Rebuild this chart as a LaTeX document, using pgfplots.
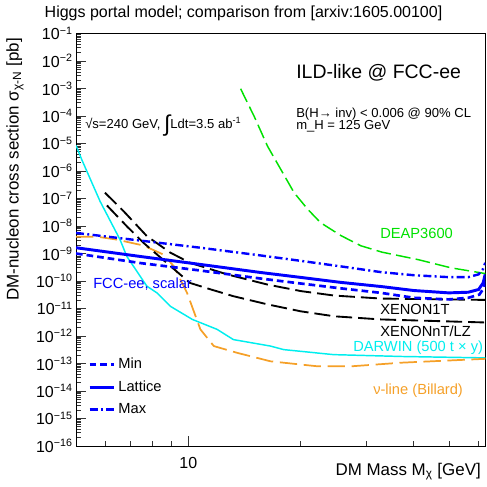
\documentclass[border=0pt]{standalone}
\usepackage{fontspec}
\setmainfont{Liberation Sans}
\usepackage{pgfplots}
\pgfplotsset{compat=1.18}
\definecolor{rootgreen}{RGB}{0,225,0}
\definecolor{rootorange}{RGB}{245,160,40}
\definecolor{rootcyan}{RGB}{0,238,238}
\newcommand{\e}[1]{10\textsuperscript{−#1}}
% image px -> picture coordinates (axis box south west at origin)
\newcommand{\px}[2]{({(#1-76)*0.75pt},{(446-#2)*0.75pt})}

\begin{document}
\begin{tikzpicture}
\begin{axis}[
  scale only axis, width=307.1pt, height=309.4pt,
  xmode=log, ymode=log,
  xmin=5, xmax=62.5, ymin=1e-16, ymax=1e-1,
  xtick={10}, xticklabels={10},
  minor xtick={6,7,8,9,20,30,40,50,60},
  ytick={1e-16,1e-15,1e-14,1e-13,1e-12,1e-11,1e-10,1e-9,1e-8,1e-7,1e-6,1e-5,1e-4,1e-3,1e-2,1e-1},
  yticklabels={\e{16},\e{15},\e{14},\e{13},\e{12},\e{11},\e{10},\e{9},\e{8},\e{7},\e{6},\e{5},\e{4},\e{3},\e{2},\e{1}},
  minor ytick={
   2e-16,3e-16,4e-16,5e-16,6e-16,7e-16,8e-16,9e-16,
   2e-15,3e-15,4e-15,5e-15,6e-15,7e-15,8e-15,9e-15,
   2e-14,3e-14,4e-14,5e-14,6e-14,7e-14,8e-14,9e-14,
   2e-13,3e-13,4e-13,5e-13,6e-13,7e-13,8e-13,9e-13,
   2e-12,3e-12,4e-12,5e-12,6e-12,7e-12,8e-12,9e-12,
   2e-11,3e-11,4e-11,5e-11,6e-11,7e-11,8e-11,9e-11,
   2e-10,3e-10,4e-10,5e-10,6e-10,7e-10,8e-10,9e-10,
   2e-9,3e-9,4e-9,5e-9,6e-9,7e-9,8e-9,9e-9,
   2e-8,3e-8,4e-8,5e-8,6e-8,7e-8,8e-8,9e-8,
   2e-7,3e-7,4e-7,5e-7,6e-7,7e-7,8e-7,9e-7,
   2e-6,3e-6,4e-6,5e-6,6e-6,7e-6,8e-6,9e-6,
   2e-5,3e-5,4e-5,5e-5,6e-5,7e-5,8e-5,9e-5,
   2e-4,3e-4,4e-4,5e-4,6e-4,7e-4,8e-4,9e-4,
   2e-3,3e-3,4e-3,5e-3,6e-3,7e-3,8e-3,9e-3,
   2e-2,3e-2,4e-2,5e-2,6e-2,7e-2,8e-2,9e-2},
  xtick pos=bottom, ytick pos=left, tick align=inside,
  major tick length=7.5pt, minor tick length=4pt,
  tick style={black!80, line width=0.6pt},
  axis line style={line width=0.6pt},
  ticklabel style={font=\fontsize{12}{14}\selectfont},
  xticklabel style={yshift=-5pt},
  yticklabel style={xshift=1pt},
  xlabel={DM Mass M\textsubscript{χ} [GeV]},
  ylabel={DM-nucleon cross section σ\textsubscript{χ-N} [pb]},
  label style={font=\fontsize{12.7}{14}\selectfont},
  xlabel style={at={(axis description cs:1,-0.062)}, anchor=east},
  ylabel style={at={(axis description cs:-0.149,1)}, anchor=east},
  legend style={at={(axis description cs:0.029,0.220)}, anchor=north west,
    draw=none, fill=none, font=\fontsize{11}{13}\selectfont, row sep=3.5pt,
    inner sep=0pt, cells={anchor=west}},
  legend image code/.code={\draw[#1] (0pt,0pt) -- (18.5pt,0pt);},
]
% DARWIN
\addplot[rootcyan, line width=1.1pt, forget plot] coordinates {
 (5.0,8.5e-6) (5.18,2.6e-6) (5.80,7.9e-8) (6.56,3.2e-9) (6.84,7.9e-10)
 (7.74,6.5e-11) (8.24,3.7e-11) (8.95,1.2e-11) (10.25,4.0e-12) (11.94,1.74e-12)
 (13.2,7.4e-13) (16.6,4.3e-13) (18.0,3.2e-13) (24.5,2.1e-13) (37.2,1.8e-13) (62.5,1.6e-13)};
% neutrino line (Billard)
\addplot[rootorange, line width=1.3pt, dash pattern=on 13pt off 5pt, forget plot] coordinates {
 (5.0,4.1e-9) (5.68,4.1e-9) (6.43,3.2e-9) (7.58,1.95e-9) (8.58,9.1e-10) (9.13,3.5e-10)
 (9.92,3.7e-11) (10.77,1.74e-12) (11.7,4.3e-13) (13.5,2.45e-13) (16.6,1.2e-13)
 (22.2,7.9e-14) (27.3,7.9e-14) (37.2,1.07e-13) (62.5,1.48e-13)};
% DEAP3600
\addplot[rootgreen, line width=1.1pt, dash pattern=on 11pt off 4pt, forget plot] coordinates {
 (13.8,9.8e-4) (15.0,9.8e-5) (16.3,7.9e-6) (17.7,1.12e-6) (19.2,1.62e-7) (20.9,4.0e-8)
 (22.6,1.32e-8) (25.6,4.5e-9) (29.0,1.9e-9) (33.0,1.12e-9) (41.2,6.0e-10)
 (50.6,3.0e-10) (62.5,1.86e-10)};
% XENON1T
\addplot[black, line width=1.4pt, dash pattern=on 12pt off 4.5pt, forget plot] coordinates {
 (5.98,1.62e-7) (6.70,3.5e-8) (7.74,4.3e-9) (8.95,1.07e-9) (10.1,4.6e-10) (12.7,1.74e-10)
 (16.3,7.4e-11) (20.0,4.3e-11) (24.6,2.95e-11) (32.8,2.3e-11) (62.5,2.05e-11)};
% XENONnT/LZ
\addplot[black, line width=1.4pt, dash pattern=on 12pt off 4.5pt, forget plot] coordinates {
 (6.05,5.6e-8) (6.84,9.8e-9) (7.58,2.45e-9) (8.95,3.5e-10) (10.1,8.5e-11) (11.5,4.9e-11)
 (13.2,2.8e-11) (16.3,1.41e-11) (20.0,7.9e-12) (24.6,5.2e-12) (32.8,4.0e-12) (62.5,3.1e-12)};
% FCC-ee scalar: Min, Lattice, Max
\addplot[blue, line width=2pt, dash pattern=on 5pt off 3pt] coordinates {
 (5.0,1.0e-9) (7.43,4.5e-10) (10.77,2.4e-10) (15.6,1.23e-10) (20.0,8.1e-11) (25.6,5.4e-11)
 (32.8,3.7e-11) (40.2,2.45e-11) (49.8,2.14e-11) (56.2,2.45e-11) (60.2,3.2e-11)
 (61.9,5.6e-11) (62.5,9.8e-11)};
\addlegendentry{Min}
\addplot[blue, line width=2.2pt] coordinates {
 (5.0,1.62e-9) (7.43,7.8e-10) (10.77,4.0e-10) (15.6,2.04e-10) (20.0,1.35e-10) (25.6,8.9e-11)
 (32.8,6.3e-11) (40.2,4.5e-11) (49.8,3.7e-11) (56.2,3.9e-11) (59.9,4.9e-11)
 (61.6,8.5e-11) (62.4,1.74e-10)};
\addlegendentry{Lattice}
\addplot[blue, line width=1.8pt, dash pattern=on 6pt off 2.5pt on 1.5pt off 2.5pt] coordinates {
 (5.0,5.6e-9) (7.43,2.95e-9) (10.77,1.62e-9) (15.6,8.5e-10) (20.0,5.4e-10) (25.6,3.4e-10)
 (32.8,2.1e-10) (40.2,1.62e-10) (49.8,1.38e-10) (56.2,1.38e-10) (59.9,1.74e-10)
 (61.6,2.75e-10) (62.4,4.6e-10)};
\addlegendentry{Max}
\end{axis}

\node[anchor=base, font=\fontsize{12}{14}\selectfont] at \px{243.5}{17.5}
  {Higgs portal model; comparison from [arxiv:1605.00100]};
\node[anchor=base west, inner sep=0pt, font=\fontsize{14.6}{16}\selectfont] at \px{296}{78}
  {ILD-like @ FCC-ee};
\node[anchor=base west, inner sep=0pt, font=\fontsize{9.8}{11}\selectfont] at \px{296}{117}
  {B(H→ inv) < 0.006 @ 90\% CL};
\node[anchor=base west, inner sep=0pt, font=\fontsize{9.8}{11}\selectfont] at \px{296}{129.5}
  {m\_H = 125 GeV};
\node[anchor=base west, inner sep=0pt, font=\fontsize{9.8}{11}\selectfont] at \px{85}{128}
  {√s=240 GeV, \raisebox{-2.5pt}{\fontsize{17}{17}\selectfont ∫}Ldt=3.5 ab\textsuperscript{-1}};
\node[anchor=base west, inner sep=0pt, text=rootgreen, font=\fontsize{11}{13}\selectfont] at \px{380}{238.5}
  {DEAP3600};
\node[anchor=base west, inner sep=0pt, text=blue, font=\fontsize{11}{13}\selectfont] at \px{93}{288}
  {FCC-ee, scalar};
\node[anchor=base west, inner sep=0pt, font=\fontsize{11}{13}\selectfont] at \px{380}{314}
  {XENON1T};
\node[anchor=base west, inner sep=0pt, font=\fontsize{11}{13}\selectfont] at \px{380}{336.7}
  {XENONnT/LZ};
\node[anchor=base west, inner sep=0pt, text=rootcyan, font=\fontsize{11}{13}\selectfont] at \px{353}{352}
  {DARWIN (500 t × y)};
\node[anchor=base west, inner sep=0pt, text=rootorange, font=\fontsize{11}{13}\selectfont] at \px{373}{394}
  {ν-line (Billard)};

\pgfresetboundingbox
\path[use as bounding box] \px{0}{487} rectangle \px{487}{0};
\end{tikzpicture}
\end{document}
